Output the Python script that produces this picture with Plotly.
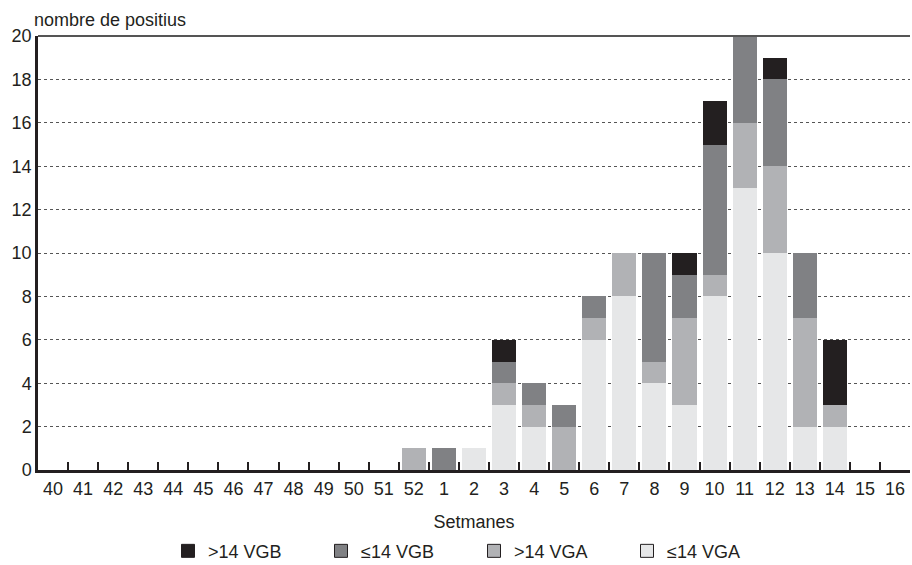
import plotly.graph_objects as go

# Weeks of the season (40-52, then 1-16)
weeks = [str(w) for w in range(40, 53)] + [str(w) for w in range(1, 17)]

# Positive counts per week and group (stack order: bottom to top)
le14_vga = [0]*13 + [0, 1, 3, 2, 0, 6, 8, 4, 3, 8, 13, 10, 2, 2, 0, 0]
gt14_vga = [0]*12 + [1] + [0, 0, 1, 1, 2, 1, 2, 1, 4, 1, 3, 4, 5, 1, 0, 0]
le14_vgb = [0]*13 + [1, 0, 1, 1, 1, 1, 0, 5, 2, 6, 4, 4, 3, 0, 0, 0]
gt14_vgb = [0]*13 + [0, 0, 1, 0, 0, 0, 0, 0, 1, 2, 0, 1, 0, 3, 0, 0]

series = [
    ("≤14 VGA", le14_vga, "#e6e7e8"),
    (">14 VGA", gt14_vga, "#b1b2b5"),
    ("≤14 VGB", le14_vgb, "#808184"),
    (">14 VGB", gt14_vgb, "#231f20"),
]

font_family = "Liberation Sans, Arial, Helvetica, sans-serif"
ink = "#231f20"
fs = 18

fig = go.Figure()
for name, vals, col in series:
    fig.add_trace(go.Bar(
        x=weeks, y=vals, name=name, legendgroup=name, showlegend=False,
        marker=dict(color=col, line=dict(width=0)),
    ))
# Legend keys: outlined squares
for name, vals, col in series:
    fig.add_trace(go.Scatter(
        x=[weeks[0]], y=[None], name=name, legendgroup=name, mode="markers",
        marker=dict(symbol="square", size=13, color=col,
                    line=dict(color=ink, width=1)),
        hoverinfo="skip",
    ))

fig.update_layout(
    width=912, height=565,
    barmode="stack", bargap=0.2,
    paper_bgcolor="white", plot_bgcolor="white",
    margin=dict(l=38, r=2, t=36, b=95, autoexpand=False),
    font=dict(family=font_family, size=fs, color=ink),
    showlegend=True,
    legend=dict(
        orientation="h", traceorder="reversed",
        x=0.5, xanchor="center", y=-0.187, yanchor="middle",
        font=dict(size=fs, color=ink),
        entrywidth=108, entrywidthmode="pixels",
        itemwidth=30, tracegroupgap=0,
    ),
    xaxis=dict(
        type="category", categoryorder="array", categoryarray=weeks,
        range=[-0.5, len(weeks) - 0.5], tickangle=0,
        showline=True, linecolor=ink, linewidth=3,
        ticks="inside", tickson="boundaries", ticklen=8, tickwidth=1.5,
        tickcolor=ink, showgrid=False, automargin=False,
        tickfont=dict(size=fs, color=ink),
        title=dict(text="Setmanes", font=dict(size=fs, color=ink), standoff=18),
    ),
    yaxis=dict(
        range=[0, 20], dtick=2, tick0=0, automargin=False,
        showline=True, linecolor=ink, linewidth=2.5,
        ticks="", showgrid=True, gridcolor="#555555", gridwidth=1,
        griddash="dot", zeroline=False,
        tickfont=dict(size=fs, color=ink),
    ),
    shapes=[dict(
        type="line", xref="paper", yref="paper",
        x0=0, x1=1, y0=1, y1=1,
        line=dict(color="#555555", width=2),
    )],
    annotations=[dict(
        text="nombre de positius", xref="paper", yref="paper",
        x=0, y=1, xanchor="left", yanchor="bottom", yshift=4,
        xshift=-6, showarrow=False, font=dict(size=fs, color=ink),
    )],
)

fig.write_html("out.html")
